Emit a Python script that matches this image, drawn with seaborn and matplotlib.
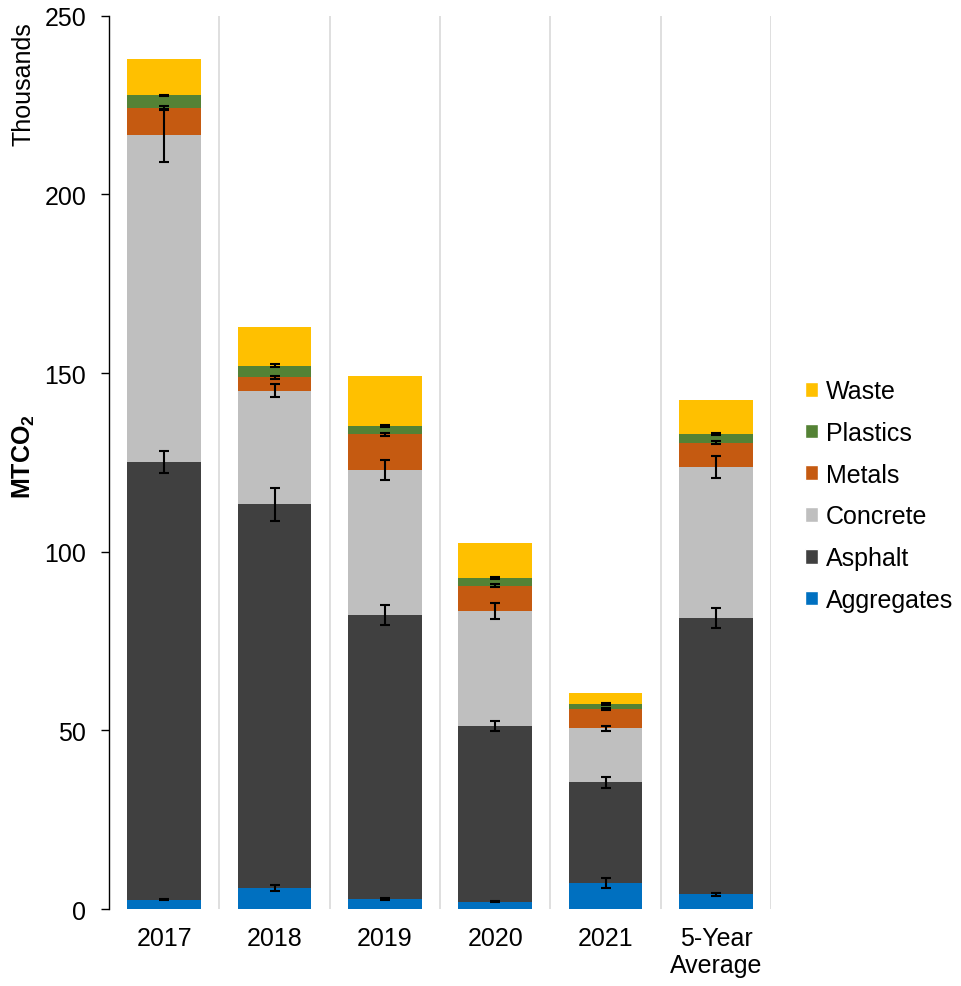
import numpy as np
import pandas as pd
import matplotlib
matplotlib.use('Agg')
import matplotlib.pyplot as plt
from matplotlib.patches import Patch
import seaborn as sns

years = ['2017', '2018', '2019', '2020', '2021', '5-Year\nAverage']
materials = ['Aggregates', 'Asphalt', 'Concrete', 'Metals', 'Plastics', 'Waste']

# thousands of MTCO2 per material
aggregates = [2.6, 5.9, 2.8, 2.1, 7.2, 4.1]
asphalt = [122.6, 107.4, 79.5, 49.1, 28.3, 77.4]
concrete = [91.3, 31.8, 40.7, 32.2, 15.1, 42.2]
metals = [7.7, 3.7, 9.9, 7.1, 5.4, 6.8]
plastics = [3.5, 3.3, 2.2, 2.1, 1.3, 2.5]
waste = [10.1, 10.9, 14.1, 9.9, 3.2, 9.6]

# error bars sit on top of each segment (none on waste)
err_aggregates = [0.2, 0.8, 0.2, 0.2, 1.4, 0.4]
err_asphalt = [3.1, 4.6, 2.9, 1.4, 1.5, 2.8]
err_concrete = [7.5, 1.9, 2.8, 2.3, 0.7, 3.0]
err_metals = [0.5, 0.4, 0.4, 0.4, 0.4, 0.4]
err_plastics = [0.2, 0.3, 0.3, 0.3, 0.3, 0.3]

colors = {'Aggregates': '#0070C0', 'Asphalt': '#404040', 'Concrete': '#BFBFBF',
          'Metals': '#C55A11', 'Plastics': '#548235', 'Waste': '#FFC000'}

values = {'Aggregates': aggregates, 'Asphalt': asphalt, 'Concrete': concrete,
          'Metals': metals, 'Plastics': plastics, 'Waste': waste}
errors = {'Aggregates': err_aggregates, 'Asphalt': err_asphalt, 'Concrete': err_concrete,
          'Metals': err_metals, 'Plastics': err_plastics}

df = pd.DataFrame(values)
df['Year'] = years
cum = df[materials].cumsum(axis=1)
cum['Year'] = years

sns.set_theme(style='white')
plt.rcParams['font.family'] = ['Liberation Sans', 'DejaVu Sans']
plt.rcParams['mathtext.default'] = 'regular'
plt.rcParams['text.color'] = 'black'

fig = plt.figure(figsize=(9.61, 9.87), dpi=100)
ax = fig.add_axes([0.1134, 0.078, 0.689, 0.905])

# stacked bars: draw the cumulative totals from the top layer down
for m in reversed(materials):
    sns.barplot(data=cum, x='Year', y=m, order=years, color=colors[m],
                saturation=1, width=0.667, errorbar=None, ax=ax, zorder=2,
                linewidth=0)

xpos = np.arange(len(years))
for m in materials[:-1]:
    ax.errorbar(xpos, cum[m], yerr=errors[m], fmt='none', ecolor='black',
                elinewidth=1.5, capsize=3.6, capthick=1.5, zorder=5)

ax.set_xlim(-0.5, 5.5)
ax.set_ylim(0, 250)
ax.set_yticks(range(0, 251, 50))
ax.set_xlabel('')
ax.set_ylabel('')
ax.set_xticks(np.arange(0.5, 6, 1), minor=True)
ax.grid(axis='x', which='minor', color='#d9d9d9', linewidth=1.2)
ax.grid(axis='x', which='major', visible=False)
ax.set_axisbelow(True)

sns.despine(ax=ax, top=True, right=True, bottom=True)
ax.spines['left'].set_color('black')
ax.spines['left'].set_linewidth(1.0)
ax.tick_params(axis='x', which='both', length=0, pad=12, labelsize=18, labelcolor='black')
ax.tick_params(axis='y', length=5.8, width=1, pad=10.5, labelsize=18,
               direction='out', left=True, color='black', labelcolor='black')

fig.text(0.024, 0.977, 'Thousands', rotation=90, ha='center', va='top', fontsize=18)
fig.text(0.025, 0.537, 'MTCO$_2$', rotation=90, ha='center', va='center',
         fontsize=18, fontweight='bold')

handles = [Patch(facecolor=colors[m], label=m) for m in reversed(materials)]
fig.legend(handles=handles, loc='center left', bbox_to_anchor=(0.838, 0.497),
           frameon=False, fontsize=18, handlelength=0.52, handleheight=0.52,
           handletextpad=0.3, labelspacing=0.71, borderaxespad=0, borderpad=0,
           labelcolor='black')

plt.savefig('out.png', dpi=100)
